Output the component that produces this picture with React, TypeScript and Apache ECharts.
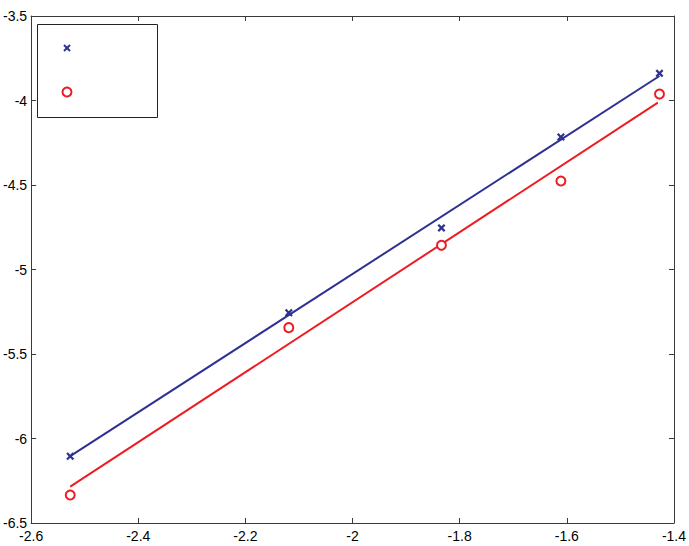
import React, { useEffect, useRef } from "react";
import * as echarts from "echarts";

const xValues = [-2.527, -2.119, -1.834, -1.611, -1.427];
const blueValues = [-6.105, -5.256, -4.754, -4.216, -3.839];
const redValues = [-6.334, -5.344, -4.857, -4.476, -3.962];
const blueFit = [[-2.527, -6.104], [-1.427, -3.855]];
const redFit = [[-2.527, -6.285], [-1.430, -4.013]];

const BLUE = "#2e3192";
const RED = "#ed1c24";
const AXIS = "#3a3a3a";
const CROSS = "path://M0,2 L2,0 L5,3 L8,0 L10,2 L7,5 L10,8 L8,10 L5,7 L2,10 L0,8 L3,5 Z";

export default function App() {
  const ref = useRef<HTMLDivElement>(null);
  useEffect(() => {
    if (!ref.current) return;
    const chart = echarts.init(ref.current, null, { renderer: "svg" });
    const labelStyle = { color: "#000", fontSize: 14, fontFamily: "Liberation Sans, Arial, sans-serif" };
    const baseAxis = {
      type: "value" as const,
      axisLine: { show: true, onZero: false, lineStyle: { color: AXIS, width: 1 } },
      axisTick: { show: true, inside: true, length: 5, lineStyle: { color: AXIS } },
      splitLine: { show: false },
    };
    chart.setOption({
      animation: false,
      backgroundColor: "#fff",
      grid: { left: 30, top: 16, width: 644, height: 507, containLabel: false },
      xAxis: [
        { ...baseAxis, min: -2.6, max: -1.4, interval: 0.2, position: "bottom",
          axisLabel: { ...labelStyle, margin: 6, showMinLabel: true, showMaxLabel: true,
            formatter: (v: number) => String(Math.round(v * 10) / 10) } },
        { ...baseAxis, min: -2.6, max: -1.4, interval: 0.2, position: "top", axisLabel: { show: false } },
      ],
      yAxis: [
        { ...baseAxis, min: -6.5, max: -3.5, interval: 0.5, position: "left",
          axisLabel: { ...labelStyle, margin: 4, showMinLabel: true, showMaxLabel: true,
            formatter: (v: number) => String(Math.round(v * 10) / 10) } },
        { ...baseAxis, min: -6.5, max: -3.5, interval: 0.5, position: "right", axisLabel: { show: false } },
      ],
      series: [
        { type: "line", data: blueFit, symbol: "none", lineStyle: { color: BLUE, width: 2 }, z: 2 },
        { type: "line", data: redFit, symbol: "none", lineStyle: { color: RED, width: 2 }, z: 2 },
        { type: "scatter", data: xValues.map((x, i) => [x, blueValues[i]]), symbol: CROSS, symbolSize: 8,
          itemStyle: { color: BLUE, opacity: 1 }, z: 3 },
        { type: "scatter", data: xValues.map((x, i) => [x, redValues[i]]), symbol: "circle", symbolSize: 9,
          itemStyle: { color: "#fff", borderColor: RED, borderWidth: 2, opacity: 1 }, z: 3 },
      ],
      graphic: [
        { type: "rect", left: 37, top: 24, shape: { width: 120, height: 93 },
          style: { fill: "#fff", stroke: "#222", lineWidth: 1 }, z: 10 },
        { type: "line", shape: { x1: 64, y1: 45, x2: 70, y2: 51 }, style: { stroke: BLUE, lineWidth: 2 }, z: 11 },
        { type: "line", shape: { x1: 70, y1: 45, x2: 64, y2: 51 }, style: { stroke: BLUE, lineWidth: 2 }, z: 11 },
        { type: "circle", shape: { cx: 67, cy: 92, r: 4.5 }, style: { fill: "#fff", stroke: RED, lineWidth: 2 }, z: 11 },
      ],
    });
    return () => chart.dispose();
  }, []);
  return <div ref={ref} style={{ width: 689, height: 546, position: "absolute", left: 0, top: 0 }} />;
}
